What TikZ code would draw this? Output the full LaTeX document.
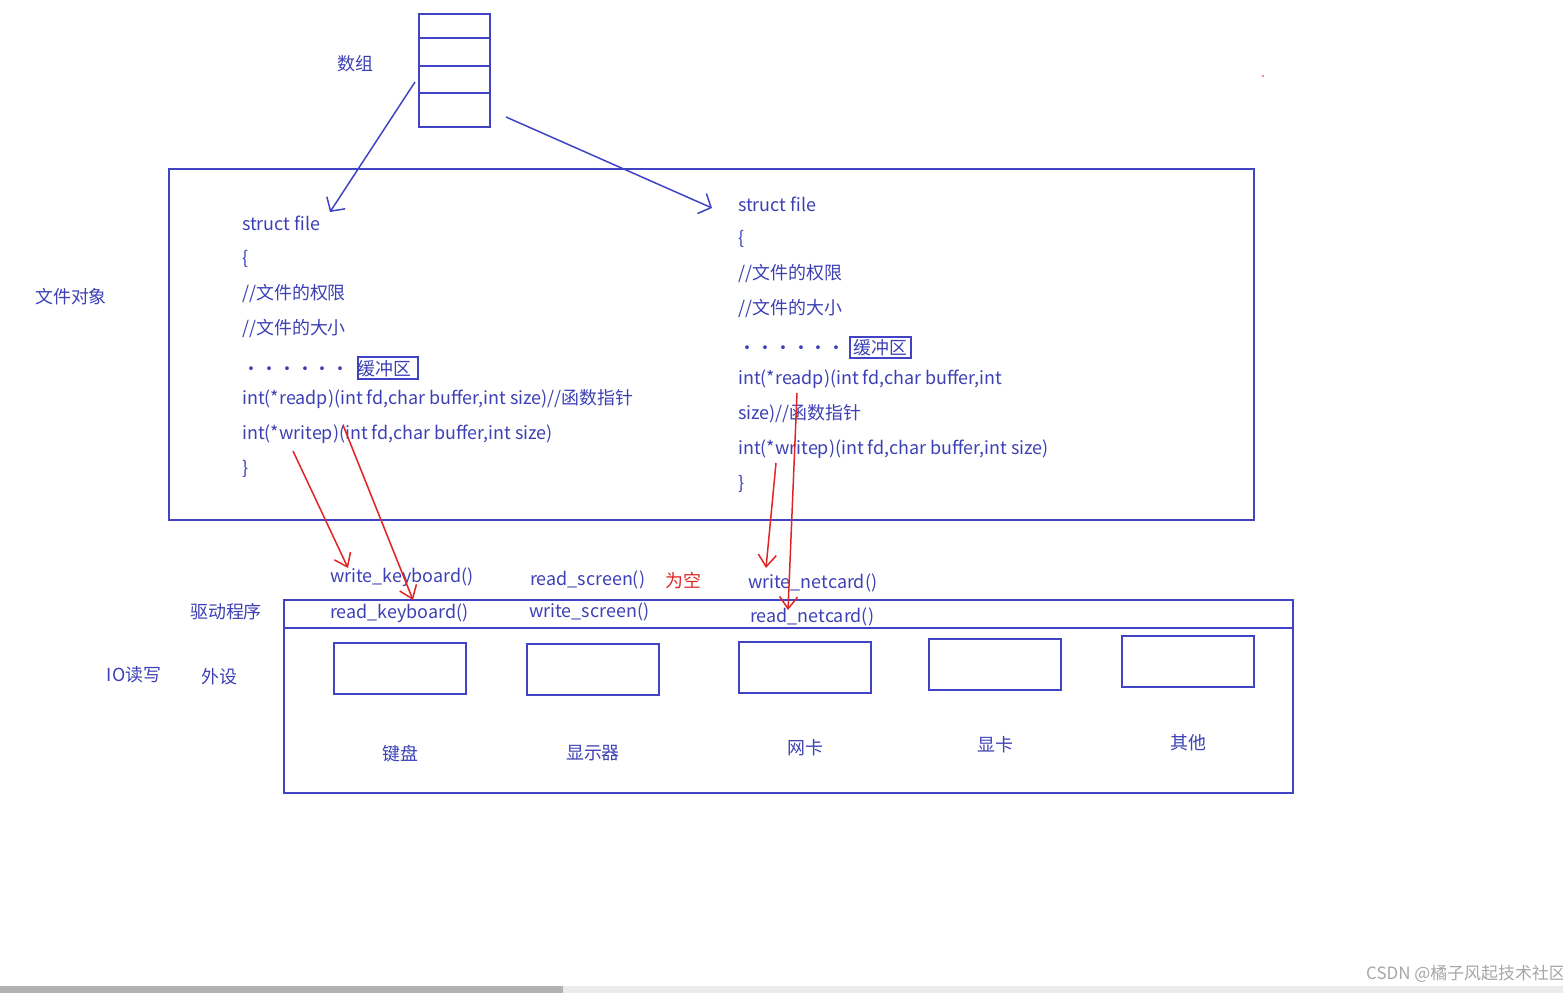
\documentclass[tikz,border=0pt]{standalone}
\usepackage{fontspec}
\setmainfont{Noto Sans CJK SC}
\usetikzlibrary{arrows.meta}
\definecolor{bl}{HTML}{3C40B4}
\definecolor{bx}{HTML}{4044C4}
\definecolor{rd}{HTML}{E02424}
\begin{document}
\begin{tikzpicture}[x=1bp,y=-1bp,
  t/.style={text=bl,font=\fontsize{18}{20}\selectfont,inner sep=0pt},
  tl/.style={t,anchor=west},
  box/.style={draw=bx,line width=2.5bp},
  ba/.style={draw=bx,line width=1.5bp,-{Straight Barb[length=10bp,width=22bp]}},
  ra/.style={draw=rd,line width=1.5bp,-{Straight Barb[length=12bp,width=18bp]}}]
\useasboundingbox (0,0) rectangle (1563,993);
\fill[black!30] (0,986) rectangle (563,993);
\fill[black!8] (563,986) rectangle (1563,993);
\node[text=black!35,font=\fontsize{17}{18}\selectfont] (wm) at (1466,974) {CSDN @橘子风起技术社区};
\fill[rd] (1263,76) circle (0.8);
% array
\draw[box] (419,14) rectangle (490,127);
\draw[box] (419,38) -- (490,38) (419,66) -- (490,66) (419,93) -- (490,93);
\coordinate (a1) at (415,82); \coordinate (a2) at (506,117);
\node[t] (arr) at (355,64) {数组};
% big box
\draw[box] (169,169) rectangle (1254,520);
\node[t] (obj) at (71,297) {文件对象};
\node[tl] (l1) at (242,223) {struct file};
\node[tl] (l2) at (242,259) {\{};
\node[tl] (l3) at (242,294) {//文件的权限};
\node[tl] (l4) at (242,329) {//文件的大小};
\node[tl] (l5) at (242,369) {······\ \ 缓冲区};
\draw[box,line width=2bp] (358,357) rectangle (418,379);
\node[tl] (l6) at (242,399) {int(*readp)(int fd,char buffer,int size)//函数指针};
\node[tl] (l7) at (242,434) {int(*writep)(int fd,char buffer,int size)};
\node[tl] (l8) at (242,469) {\}};
\node[tl] (r1) at (738,204) {struct file};
\node[tl] (r2) at (738,239) {\{};
\node[tl] (r3) at (738,274) {//文件的权限};
\node[tl] (r4) at (738,309) {//文件的大小};
\node[tl] (r5) at (738,348) {······\ \ 缓冲区};
\draw[box,line width=2bp] (850,337) rectangle (911,358);
\node[tl] (r6) at (738,379) {int(*readp)(int fd,char buffer,int};
\node[tl] (r7) at (738,414) {size)//函数指针};
\node[tl] (r8) at (738,449) {int(*writep)(int fd,char buffer,int size)};
\node[tl] (r9) at (738,484) {\}};
\coordinate (lt) at (330,212); \coordinate (rt) at (712,208);
\draw[ba] (a1) -- (lt);
\draw[ba] (a2) -- (rt);
% driver
\draw[box] (284,600) rectangle (1293,793);
\draw[box] (284,628) -- (1293,628);
\node[t] (drv) at (226,612) {驱动程序};
\node[t] (io) at (134,675) {IO读写};
\node[t] (pe) at (219,677) {外设};
\node[tl] (wk) at (330,577) {write\_keyboard()};
\node[tl] (rk) at (330,613) {read\_keyboard()};
\node[tl] (rs) at (530,580) {read\_screen()};
\node[anchor=west,text=rd,font=\fontsize{18}{20}\selectfont,inner sep=0pt] (em) at (665,581) {为空};
\node[tl] (ws) at (529,612) {write\_screen()};
\node[tl] (wn) at (748,583) {write\_netcard()};
\node[tl] (rn) at (750,617) {read\_netcard()};
\foreach \n/\x/\y/\lab/\ly in {k/334/643/键盘/754, s/527/644/显示器/753, n/739/642/网卡/748, g/929/639/显卡/745, o/1122/636/其他/743}{
  \draw[box] (\x,\y) rectangle ++(132,51);
  \node[t] (d\n) at (\x+66,\ly) {\lab};
}
% red arrows
\coordinate (s1) at (293,451); \coordinate (e1) at (348,568);
\coordinate (s2) at (343,425); \coordinate (e2) at (413,600);
\coordinate (s3) at (776,463); \coordinate (e3) at (766,568);
\coordinate (s4) at (797,393); \coordinate (e4) at (788,610);
\draw[ra] (s1) -- (e1);
\draw[ra] (s2) -- (e2);
\draw[ra] (s3) -- (e3);
\draw[ra] (s4) -- (e4);
\end{tikzpicture}
\end{document}
